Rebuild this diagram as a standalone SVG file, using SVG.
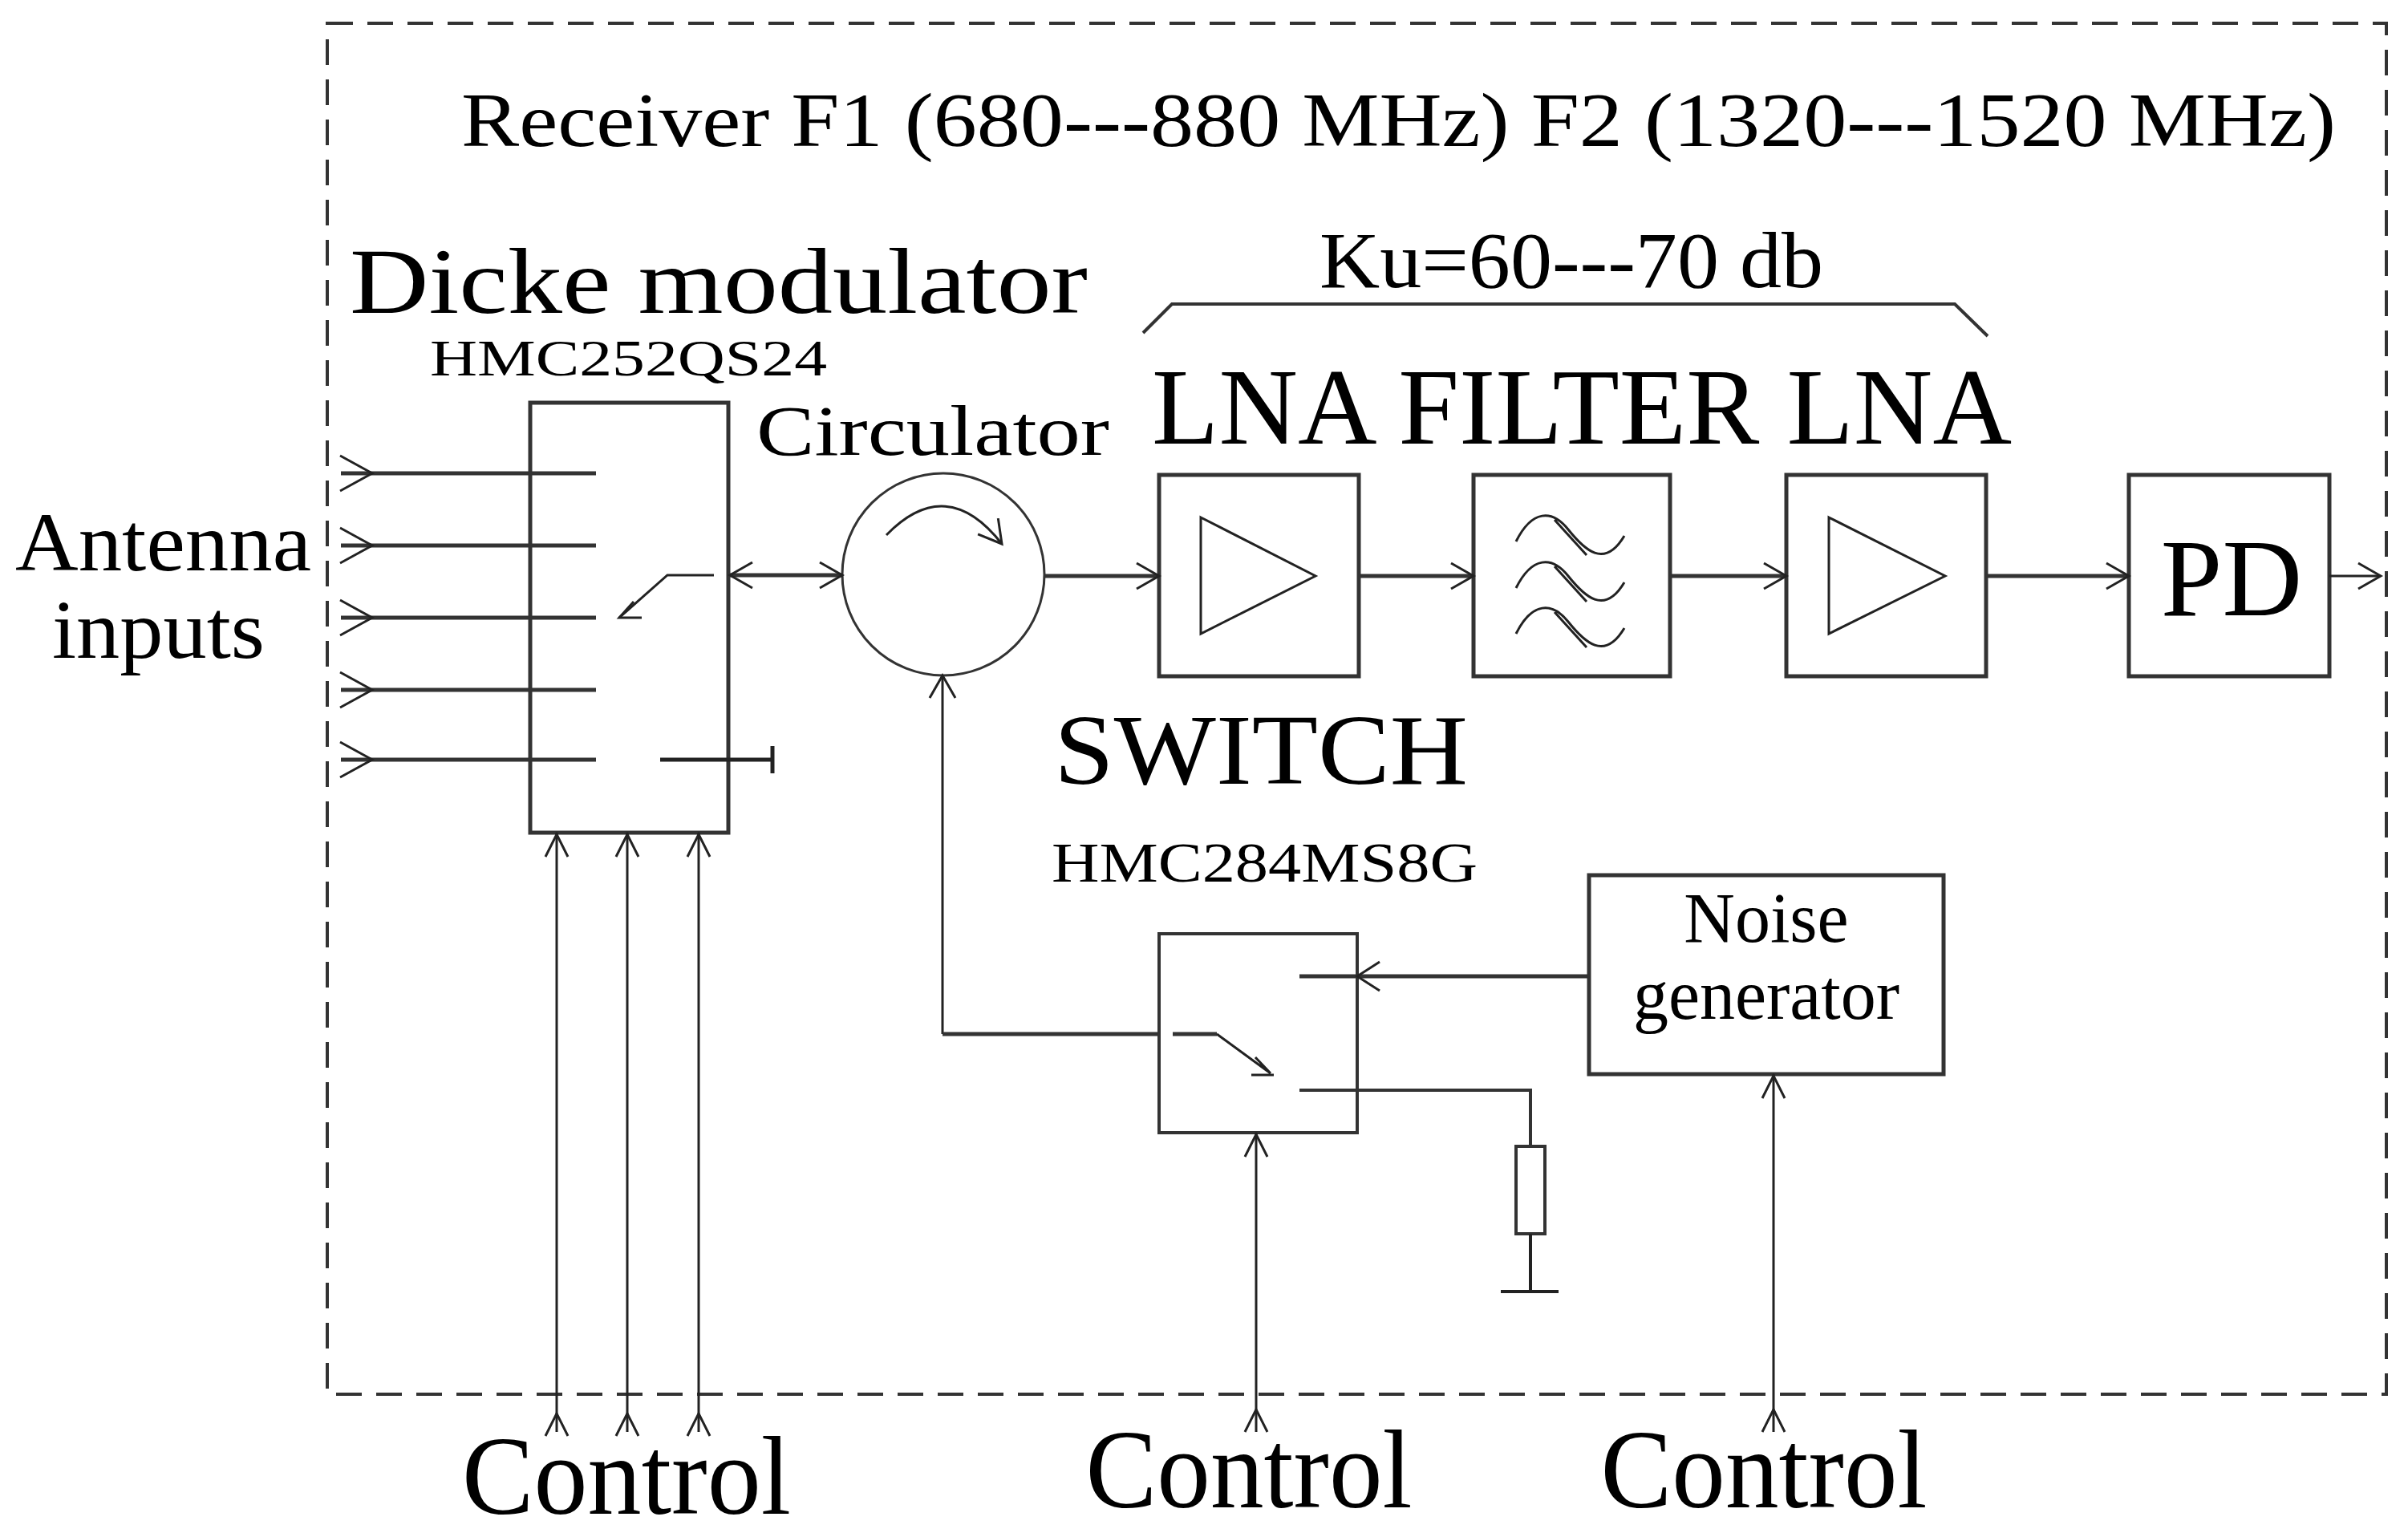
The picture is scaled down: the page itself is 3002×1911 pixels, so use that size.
<svg xmlns="http://www.w3.org/2000/svg" width="3002" height="1911" viewBox="0 0 3002 1911">
<defs>
<style>
.t{font-family:"Liberation Serif","Times New Roman",serif;fill:#000}
.ln{stroke:#333;stroke-width:6;fill:none}
.th{stroke:#222;stroke-width:3;fill:none}
.box{stroke:#333;stroke-width:5;fill:#fff}
</style>
<marker id="a" markerUnits="userSpaceOnUse" markerWidth="40" markerHeight="40" viewBox="-30 -20 32 40" refX="0" refY="0" orient="auto-start-reverse">
<path d="M-28,-16 L0,0 L-28,16" fill="none" stroke="#222" stroke-width="3"/>
</marker>
</defs>
<rect width="3002" height="1911" fill="#fff"/>
<rect x="408" y="29" width="2567" height="1709" fill="none" stroke="#333" stroke-width="4" stroke-dasharray="32 18"/>
<text class="t" x="575" y="182" font-size="96" textLength="2337" lengthAdjust="spacingAndGlyphs">Receiver F1 (680---880 MHz)  F2 (1320---1520 MHz)</text>

<g id="dicke">
<text class="t" x="436" y="390" font-size="116" textLength="920" lengthAdjust="spacingAndGlyphs">Dicke modulator</text>
<text class="t" x="536" y="468" font-size="64" textLength="495" lengthAdjust="spacingAndGlyphs">HMC252QS24</text>
<rect class="box" x="661" y="502" width="247" height="536"/>
<path class="th" d="M890,717 L832,717 L772,770"/>
<path class="th" d="M790,750 L772,770 L800,770"/>
<path class="th" d="M823,947 L963,947 M963,930 L963,964" style="stroke-width:5"/>
</g>
<g id="antenna">
<text class="t" x="19" y="711" font-size="104" textLength="369" lengthAdjust="spacingAndGlyphs">Antenna</text>
<text class="t" x="65" y="820" font-size="104" textLength="265" lengthAdjust="spacingAndGlyphs">inputs</text>
</g>
<g id="circulator">
<text class="t" x="943" y="567" font-size="88" textLength="440" lengthAdjust="spacingAndGlyphs">Circulator</text>
<circle cx="1176" cy="716" r="126" fill="none" stroke="#333" stroke-width="3"/>
<path class="th" d="M1105,667 Q1180,590 1249,678" marker-end="url(#a)"/>
</g>
<g id="lna1"><rect class="box" x="1445" y="592" width="249" height="251"/><path class="th" d="M1497,645 L1640,718 L1497,790 Z"/></g>
<g id="filter"><rect class="box" x="1837" y="592" width="245" height="251"/>
<path class="th" d="M1890,675 C1910,635 1935,635 1955,660 S2000,710 2025,668 M1938,648 L1978,692"/>
<path class="th" d="M1890,733 C1910,693 1935,693 1955,718 S2000,768 2025,726 M1938,706 L1978,750"/>
<path class="th" d="M1890,790 C1910,750 1935,750 1955,775 S2000,825 2025,783 M1938,763 L1978,807"/>
</g>
<g id="lna2"><rect class="box" x="2227" y="592" width="249" height="251"/><path class="th" d="M2280,645 L2425,718 L2280,790 Z"/></g>
<g id="pd"><rect class="box" x="2654" y="592" width="250" height="251"/><text class="t" x="2782" y="767" font-size="138" text-anchor="middle">PD</text></g>
<g id="labels">
<text class="t" x="1645" y="358" font-size="100" textLength="628" lengthAdjust="spacingAndGlyphs">Ku=60---70 db</text>
<path class="ln" d="M1425,415 L1461,379 L2437,379 L2478,419" style="stroke-width:4"/>
<text class="t" x="1436" y="553" font-size="136" textLength="1072" lengthAdjust="spacingAndGlyphs">LNA FILTER LNA</text>
<text class="t" x="1314" y="977" font-size="125" textLength="516" lengthAdjust="spacingAndGlyphs">SWITCH</text>
<text class="t" x="1311" y="1099" font-size="69" textLength="531" lengthAdjust="spacingAndGlyphs">HMC284MS8G</text>
<text class="t" x="781" y="1887" font-size="140" text-anchor="middle" textLength="410" lengthAdjust="spacingAndGlyphs">Control</text>
<text class="t" x="1557" y="1879" font-size="140" text-anchor="middle" textLength="407" lengthAdjust="spacingAndGlyphs">Control</text>
<text class="t" x="2199" y="1879" font-size="140" text-anchor="middle" textLength="407" lengthAdjust="spacingAndGlyphs">Control</text>
</g>
<g id="switch">
<rect class="box" x="1445" y="1164" width="247" height="248" style="stroke-width:4"/>
<path class="ln" d="M1462,1289 L1517,1289" style="stroke-width:5"/>
<path class="th" d="M1517,1289 L1584,1338 M1560,1340 L1588,1340 M1565,1318 L1584,1338"/>
</g>
<g id="noise"><rect class="box" x="1981" y="1091" width="442" height="248"/>
<text class="t" x="2202" y="1174" font-size="88" text-anchor="middle">Noise</text>
<text class="t" x="2202" y="1270" font-size="88" text-anchor="middle">generator</text></g>
<g id="load">
<rect x="1890" y="1429" width="36" height="109" fill="#fff" stroke="#333" stroke-width="4"/>
<path class="th" d="M1908,1538 L1908,1610 M1871,1610 L1943,1610" style="stroke-width:4"/>
</g>
<g id="connectors">
<path class="ln" d="M425,590 L743,590 M425,680 L743,680 M425,770 L743,770 M425,860 L743,860 M425,947 L743,947" style="stroke-width:5"/>
<path class="th" d="M424,568 L464,590 L424,612 M424,658 L464,680 L424,702 M424,748 L464,770 L424,792 M424,838 L464,860 L424,882 M424,925 L464,947 L424,969"/>
<path class="ln" d="M910,717 L1050,717" style="stroke-width:5" marker-start="url(#a)" marker-end="url(#a)"/>
<path class="ln" d="M1302,718 L1445,718" style="stroke-width:5" marker-end="url(#a)"/>
<path class="ln" d="M1694,718 L1837,718" style="stroke-width:5" marker-end="url(#a)"/>
<path class="ln" d="M2082,718 L2227,718" style="stroke-width:5" marker-end="url(#a)"/>
<path class="ln" d="M2476,718 L2654,718" style="stroke-width:5" marker-end="url(#a)"/>
<path class="th" d="M2904,718 L2968,718" marker-end="url(#a)"/>
<path class="th" d="M1175,842 L1175,1289" marker-start="url(#a)"/>
<path class="ln" d="M1175,1289 L1445,1289" style="stroke-width:5"/>
<path class="ln" d="M1981,1217 L1620,1217" style="stroke-width:5"/>
<path class="th" d="M1720,1199 L1692,1217 L1720,1235"/>
<path class="ln" d="M1620,1359 L1908,1359 L1908,1429" style="stroke-width:4"/>
<path class="th" d="M694,1785 L694,1038 M782,1785 L782,1038 M871,1785 L871,1038 M1566,1785 L1566,1412 M2211,1785 L2211,1339"/>
<path class="th" d="M680,1068 L694,1040 L708,1068 M768,1068 L782,1040 L796,1068 M857,1068 L871,1040 L885,1068 M1552,1442 L1566,1414 L1580,1442 M2197,1369 L2211,1341 L2225,1369"/>
<path class="th" d="M680,1790 L694,1762 L708,1790 M768,1790 L782,1762 L796,1790 M857,1790 L871,1762 L885,1790 M1552,1785 L1566,1757 L1580,1785 M2197,1785 L2211,1757 L2225,1785"/>
</g>
</svg>
